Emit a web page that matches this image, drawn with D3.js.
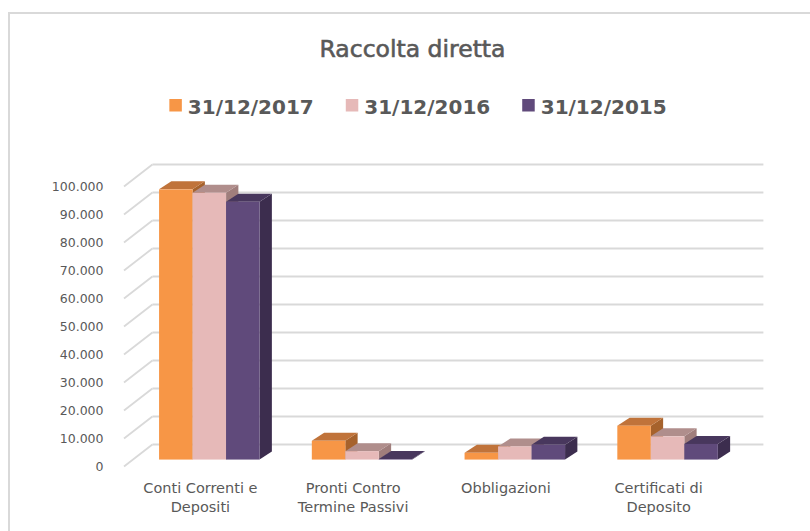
<!DOCTYPE html>
<html>
<head>
<meta charset="utf-8">
<script src="https://cdn.jsdelivr.net/npm/d3@7"></script>
<style>
  body { margin: 0; background: #fff; }
  text { font-family: "DejaVu Sans", sans-serif; fill: #595959; }
</style>
</head>
<body>
<div id="chart"></div>
<script>
// Data
const categories = ['Conti Correnti e Depositi', 'Pronti Contro Termine Passivi', 'Obbligazioni', 'Certificati di Deposito'];
const seriesNames = ['31/12/2017', '31/12/2016', '31/12/2015'];
const values2017 = [96500, 6700, 2400, 12100];
const values2016 = [95300, 3000, 4700, 8300];
const values2015 = [92100, 200, 5300, 5600];
const tickValues = [0, 10000, 20000, 30000, 40000, 50000, 60000, 70000, 80000, 90000, 100000];

const seriesValues = [values2017, values2016, values2015];

// Colours: front, top, side
const colors = [
    { front: '#f79646', top: '#c0733a', side: '#a6622c' },
    { front: '#e6b9b8', top: '#b08e8c', side: '#a07e7c' },
    { front: '#604a7b', top: '#48375d', side: '#3c2d4e' }
];

// Dimensions
const W = 810, H = 531;
const front = { left: 124, right: 735, bottom: 466.5, top: 186.5 };
const depth = { dx: 28.4, dy: -22 };     // oblique offset of the back wall
const barPos = 0.315;                    // where the bar front face sits in the depth
const barDepth = { dx: 12.3, dy: -8 };   // bar thickness

const svg = d3.select('#chart')
    .append('svg')
    .attr('width', W)
    .attr('height', H);

// Chart border
svg.append('rect')
    .attr('x', 9).attr('y', 13)
    .attr('width', 900).attr('height', 600)
    .attr('fill', 'none')
    .attr('stroke', '#d9d9d9')
    .attr('stroke-width', 2);

// Scales
const y = d3.scaleLinear().domain([0, 100000]).range([front.bottom, front.top]);
const x0 = d3.scaleBand().domain(categories).range([front.left, front.right])
    .paddingInner(0.342).paddingOuter(0.171);
const x1 = d3.scaleBand().domain(seriesNames).range([0, x0.bandwidth()]);

const fmt = d3.formatLocale({ decimal: ',', thousands: '.', grouping: [3], currency: ['€', ''] }).format(',d');

// Gridlines: side wall diagonals and back wall lines
const grid = svg.append('g')
    .attr('stroke', '#d9d9d9')
    .attr('stroke-width', 1.8)
    .attr('fill', 'none');

grid.selectAll('.diag')
    .data(tickValues)
    .join('line')
    .attr('x1', front.left).attr('y1', d => y(d))
    .attr('x2', front.left + depth.dx).attr('y2', d => y(d) + depth.dy);

grid.selectAll('.back')
    .data(tickValues)
    .join('line')
    .attr('x1', front.left + depth.dx).attr('y1', d => y(d) + depth.dy)
    .attr('x2', front.right + depth.dx).attr('y2', d => y(d) + depth.dy);

// Y axis labels
svg.append('g')
    .selectAll('text')
    .data(tickValues)
    .join('text')
    .attr('x', 103.5)
    .attr('y', d => y(d))
    .attr('dy', '0.36em')
    .attr('text-anchor', 'end')
    .style('font-size', '12.5px')
    .text(d => fmt(d));

// Bars
const ox = barPos * depth.dx, oy = barPos * depth.dy;
const barData = [];
categories.forEach((c, ci) => {
    seriesNames.forEach((s, si) => {
        barData.push({ cat: c, series: s, si: si, value: seriesValues[si][ci] });
    });
});

const bars = svg.append('g')
    .selectAll('g')
    .data(barData)
    .join('g');

function pts(arr) { return arr.map(p => p.join(',')).join(' '); }

bars.each(function(d) {
    const g = d3.select(this);
    const xl = x0(d.cat) + x1(d.series) + ox;
    const xr = xl + x1.bandwidth();
    const yb = y(0) + oy;
    const yt = y(d.value) + oy;
    const c = colors[d.si];
    // side face
    g.append('polygon')
        .attr('points', pts([[xr, yt], [xr + barDepth.dx, yt + barDepth.dy], [xr + barDepth.dx, yb + barDepth.dy], [xr, yb]]))
        .attr('fill', c.side);
    // top face
    g.append('polygon')
        .attr('points', pts([[xl, yt], [xl + barDepth.dx, yt + barDepth.dy], [xr + barDepth.dx, yt + barDepth.dy], [xr, yt]]))
        .attr('fill', c.top);
    // front face
    g.append('rect')
        .attr('x', xl).attr('y', yt)
        .attr('width', xr - xl).attr('height', Math.max(0, yb - yt))
        .attr('fill', c.front);
});

// Category labels (wrapped)
svg.append('g')
    .selectAll('text')
    .data(categories)
    .join('text')
    .attr('x', d => x0(d) + x0.bandwidth() / 2)
    .attr('y', 493)
    .attr('text-anchor', 'middle')
    .style('font-size', '14.5px')
    .each(function(d) {
        const t = d3.select(this);
        const words = d.split(' ');
        let line = [];
        let lines = [];
        const probe = t.append('tspan');
        words.forEach(w => {
            const test = line.concat(w).join(' ');
            probe.text(test);
            if (probe.node().getComputedTextLength() > 132 && line.length) {
                lines.push(line.join(' '));
                line = [w];
            } else {
                line.push(w);
            }
        });
        lines.push(line.join(' '));
        probe.remove();
        lines.forEach((l, i) => {
            t.append('tspan')
                .attr('x', x0(d) + x0.bandwidth() / 2)
                .attr('dy', i === 0 ? 0 : 19)
                .text(l);
        });
    });

// Title (semi-bold look)
svg.append('text')
    .attr('x', 412.5)
    .attr('y', 57)
    .attr('text-anchor', 'middle')
    .style('font-size', '23.5px')
    .style('stroke', '#595959')
    .style('stroke-width', 0.6)
    .text('Raccolta diretta');

// Legend
const legend = svg.append('g');
const items = legend.selectAll('g')
    .data(seriesNames)
    .join('g');

items.append('rect')
    .attr('width', 12.5).attr('height', 12.5)
    .attr('y', 99)
    .attr('fill', (d, i) => colors[i].front);

items.append('text')
    .attr('x', 18.5)
    .attr('y', 113.5)
    .style('font-size', '20px')
    .style('font-weight', 'bold')
    .text(d => d);

// Position legend items centred
const gap = 32;
let widths = [];
items.each(function() { widths.push(this.getBBox().width); });
const total = d3.sum(widths) + gap * (widths.length - 1);
let cx = 418 - total / 2;
items.attr('transform', (d, i) => {
    const t = `translate(${cx},0)`;
    cx += widths[i] + gap;
    return t;
});
</script>
</body>
</html>
